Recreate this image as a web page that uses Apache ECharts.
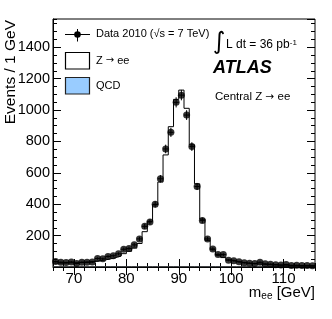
<!DOCTYPE html>
<html>
<head>
<meta charset="utf-8">
<script src="https://cdn.jsdelivr.net/npm/echarts@6/dist/echarts.min.js"></script>
<style>html,body{margin:0;padding:0;background:#fff}#c{width:332px;height:319px}</style>
</head>
<body>
<div id="c"></div>
<script>
// Bin lower edges 66..115 (1 GeV bins)
var binStart = 66;
var binWidth = 1;
// Data 2010 events per bin
var dataCounts = [35,30,28,32,22,30,30,32,54,52,67,72,84,113,118,141,179,259,287,399,562,752,858,1049,1095,968,767,513,297,179,115,79,79,43,40,33,27,24,22,30,20,18,15,12,16,10,11,9,10,8];
// Z -> ee expectation per bin
var zeeCounts = [25,25,26,27,28,30,32,35,40,45,52,60,70,85,100,120,150,225,291,397,541,714,894,1068,1127,1011,778,530,305,170,110,75,60,45,37,30,26,22,20,18,16,14,13,12,11,10,9,9,8,8];
// QCD background per bin
var qcdCounts = [2,2,2,2,2,2,2,2,2,2,2,2,2,2,2,2,2,2,2,2,2,2,2,2,2,2,2,2,2,2,2,2,2,2,2,2,2,2,2,2,2,2,2,2,2,2,2,2,2,2];
var xMajorTicks = [70,80,90,100,110];

var chart = echarts.init(document.getElementById('c'), null, {renderer:'canvas'});
function stepData(arr){
  var out = arr.map(function(v,i){return [binStart+i*binWidth, v];});
  out.push([binStart+arr.length*binWidth, arr[arr.length-1]]);
  return out;
}
var pts = dataCounts.map(function(v,i){return [binStart+(i+0.5)*binWidth, v, Math.sqrt(v)];});
var FONT = 'Liberation Sans';
var xCommon = {type:'value', min:66, max:116, gridIndex:0, splitLine:{show:false}};
var yCommon = {type:'value', min:0, max:1580, gridIndex:0, splitLine:{show:false}};
function plain(v){ return String(v); }
var option = {
  animation:false,
  backgroundColor:'#fff',
  textStyle:{fontFamily:FONT},
  grid:{left:53, right:17, top:19, bottom:52, show:true, borderColor:'#000', borderWidth:1, containLabel:false, outerBoundsMode:'none'},
  xAxis:[
    Object.assign({}, xCommon, {position:'bottom',
      axisLine:{show:true, lineStyle:{color:'#000', width:1}},
      axisTick:{show:true, inside:true, length:8, customValues:xMajorTicks, lineStyle:{color:'#000'}},
      axisLabel:{show:true, customValues:xMajorTicks, formatter:plain, color:'#000', fontSize:15, margin:4, fontFamily:FONT},
      name:'m{sub|ee} [GeV]', nameLocation:'end', nameGap:0, nameMoveOverlap:false,
      nameTextStyle:{color:'#000', fontSize:15, fontFamily:FONT, align:'right', verticalAlign:'top', padding:[18,0,0,0],
        rich:{sub:{fontSize:10, verticalAlign:'bottom', color:'#000', fontFamily:FONT, padding:[6,0,0,0]}}}
    }),
    Object.assign({}, xCommon, {position:'bottom', interval:2,
      axisLine:{show:false}, axisTick:{show:true, inside:true, length:4, lineStyle:{color:'#000'}}, axisLabel:{show:false}}),
    Object.assign({}, xCommon, {position:'top',
      axisLine:{show:false}, axisTick:{show:true, inside:true, length:8, customValues:xMajorTicks, lineStyle:{color:'#000'}}, axisLabel:{show:false}}),
    Object.assign({}, xCommon, {position:'top', interval:2,
      axisLine:{show:false}, axisTick:{show:true, inside:true, length:4, lineStyle:{color:'#000'}}, axisLabel:{show:false}})
  ],
  yAxis:[
    Object.assign({}, yCommon, {position:'left', interval:200,
      axisLine:{show:true, lineStyle:{color:'#000', width:1}},
      axisTick:{show:true, inside:true, length:8, lineStyle:{color:'#000'}},
      axisLabel:{show:true, formatter:plain, color:'#000', fontSize:14.5, margin:3, fontFamily:FONT, showMinLabel:false, showMaxLabel:false},
      name:'Events / 1 GeV', nameLocation:'end', nameRotate:90, nameGap:-1, nameMoveOverlap:false,
      nameTextStyle:{color:'#000', fontSize:15.5, fontFamily:FONT, align:'right', verticalAlign:'bottom', padding:[0,0,34,0]}
    }),
    Object.assign({}, yCommon, {position:'left', interval:50,
      axisLine:{show:false}, axisTick:{show:true, inside:true, length:4, lineStyle:{color:'#000'}}, axisLabel:{show:false}}),
    Object.assign({}, yCommon, {position:'right', interval:200,
      axisLine:{show:false}, axisTick:{show:true, inside:true, length:8, lineStyle:{color:'#000'}}, axisLabel:{show:false}}),
    Object.assign({}, yCommon, {position:'right', interval:50,
      axisLine:{show:false}, axisTick:{show:true, inside:true, length:4, lineStyle:{color:'#000'}}, axisLabel:{show:false}})
  ],
  series:[
    {name:'QCD', type:'line', step:'end', data:stepData(qcdCounts), showSymbol:false, symbol:'none',
      lineStyle:{color:'#333', width:1}, areaStyle:{color:'#99ccff', opacity:1}, z:2},
    {name:'Z → ee', type:'line', step:'end', data:stepData(zeeCounts), showSymbol:false, symbol:'none',
      lineStyle:{color:'#000', width:1}, z:3},
    {name:'Data 2010', type:'custom', data:pts, z:4,
      renderItem:function(params, api){
        var x=api.value(0), y=api.value(1), e=api.value(2);
        var a=api.coord([x, y-e]), b=api.coord([x, y+e]);
        var l=api.coord([x-binWidth/2, y]), r=api.coord([x+binWidth/2, y]);
        return {type:'group', children:[
          {type:'line', shape:{x1:a[0],y1:a[1],x2:b[0],y2:b[1]}, style:{stroke:'#000', lineWidth:1}},
          {type:'line', shape:{x1:l[0],y1:l[1],x2:r[0],y2:r[1]}, style:{stroke:'#000', lineWidth:1}}
        ]};
      }},
    {name:'Data 2010 points', type:'scatter', data:pts.map(function(p){return [p[0],p[1]];}), symbol:'circle', symbolSize:7,
      itemStyle:{color:'#000'}, z:5}
  ],
  graphic:[
    {type:'line', shape:{x1:65,y1:34.5,x2:90,y2:34.5}, style:{stroke:'#000', lineWidth:1}},
    {type:'line', shape:{x1:77.5,y1:29,x2:77.5,y2:41.5}, style:{stroke:'#000', lineWidth:1}},
    {type:'circle', shape:{cx:77.5, cy:34.5, r:3.3}, style:{fill:'#000'}},
    {type:'text', left:96, top:28, style:{text:'Data 2010 (√s = 7 TeV)', fontSize:11, fontFamily:FONT, fill:'#000'}},
    {type:'rect', shape:{x:65.5, y:52.5, width:24, height:16.5}, style:{fill:'#fff', stroke:'#000', lineWidth:1.2}},
    {type:'text', left:96, top:55, style:{text:'Z {a|→} ee', fontSize:11, fontFamily:FONT, fill:'#000', rich:{a:{fontFamily:'DejaVu Sans', fontSize:10, fill:'#000'}}}},
    {type:'rect', shape:{x:65.5, y:77.5, width:24, height:16.5}, style:{fill:'#99ccff', stroke:'#222', lineWidth:1.2}},
    {type:'text', left:96, top:80, style:{text:'QCD', fontSize:11, fontFamily:FONT, fill:'#000'}},
    {type:'text', left:213, top:31, style:{text:'∫', fontSize:24, fontFamily:'DejaVu Sans', fill:'#000'}},
    {type:'text', left:226, top:39, style:{text:'L dt = 36 pb{sup|-1}', fontSize:12, fontFamily:FONT, fill:'#000',
      rich:{sup:{fontSize:8, verticalAlign:'top', fontFamily:FONT, fill:'#000'}}}},
    {type:'text', left:213, top:59, style:{text:'ATLAS', fontSize:18, fontWeight:'bold', fontStyle:'italic', fontFamily:FONT, fill:'#000'}},
    {type:'text', left:215, top:91, style:{text:'Central Z {a|→} ee', fontSize:11.5, fontFamily:FONT, fill:'#000', rich:{a:{fontFamily:'DejaVu Sans', fontSize:10.5, fill:'#000'}}}}
  ]
};
chart.setOption(option);
</script>
</body>
</html>
